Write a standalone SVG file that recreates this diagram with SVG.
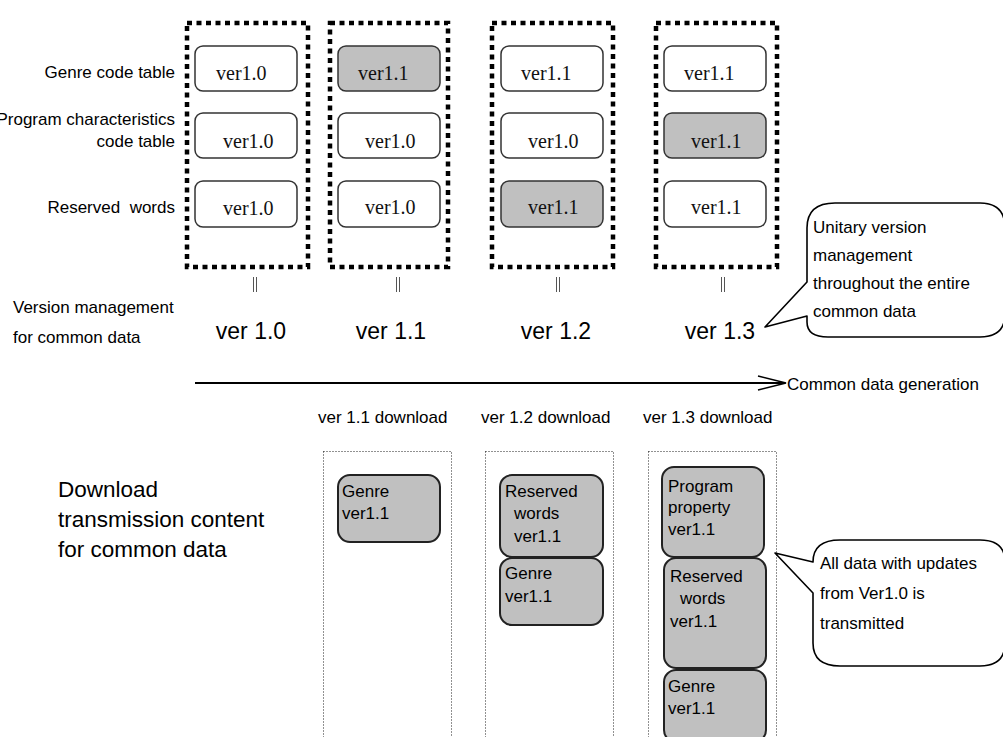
<svg xmlns="http://www.w3.org/2000/svg" width="1003" height="737" viewBox="0 0 1003 737">
  <style>
    .sans { font-family: "Liberation Sans", Arial, sans-serif; fill: #000; }
    .serif { font-family: "Liberation Serif", "Times New Roman", serif; font-size: 20px; fill: #111; }
    .lbl { font-size: 17px; }
    .big { font-size: 23px; }
    .frame { fill: none; stroke: #000; stroke-width: 4.5; stroke-dasharray: 5 4.5; }
    .tbl { fill: #fff; stroke: #333; stroke-width: 1.5; }
    .tbl.upd { fill: #c0c0c0; }
    .dl { fill: none; stroke: #222; stroke-width: 1; stroke-dasharray: 1 2; }
    .item { fill: #c0c0c0; stroke: #222; stroke-width: 2; }
    .eq { stroke: #555; stroke-width: 1; }
    .callout { fill: #fff; stroke: #000; stroke-width: 1.6; stroke-linejoin: round; }
  </style>

  <!-- row labels -->
  <g id="row-labels" class="sans lbl" text-anchor="end">
    <text x="175" y="78">Genre code table</text>
    <text x="175" y="125">Program characteristics</text>
    <text x="175" y="147">code table</text>
    <text x="175" y="213" xml:space="preserve">Reserved  words</text>
  </g>

  <!-- version 1.0 -->
  <g id="set-v10">
    <rect class="frame" x="187" y="23" width="121" height="244"/>
    <rect class="tbl" x="195" y="46" width="102" height="45" rx="8"/>
    <rect class="tbl" x="195" y="113" width="102" height="45" rx="8"/>
    <rect class="tbl" x="195" y="181" width="102" height="46" rx="8"/>
    <text class="serif" x="216" y="80">ver1.0</text>
    <text class="serif" x="223" y="148">ver1.0</text>
    <text class="serif" x="223" y="215">ver1.0</text>
  </g>

  <!-- version 1.1 -->
  <g id="set-v11">
    <rect class="frame" x="330" y="23" width="118" height="244"/>
    <rect class="tbl upd" x="338" y="46" width="102" height="45" rx="8"/>
    <rect class="tbl" x="338" y="113" width="102" height="45" rx="8"/>
    <rect class="tbl" x="338" y="181" width="102" height="46" rx="8"/>
    <text class="serif" x="358" y="80">ver1.1</text>
    <text class="serif" x="365" y="148">ver1.0</text>
    <text class="serif" x="365" y="214">ver1.0</text>
  </g>

  <!-- version 1.2 -->
  <g id="set-v12">
    <rect class="frame" x="492" y="23" width="121" height="244"/>
    <rect class="tbl" x="501" y="46" width="102" height="45" rx="8"/>
    <rect class="tbl" x="501" y="113" width="102" height="45" rx="8"/>
    <rect class="tbl upd" x="501" y="181" width="102" height="46" rx="8"/>
    <text class="serif" x="521" y="80">ver1.1</text>
    <text class="serif" x="528" y="148">ver1.0</text>
    <text class="serif" x="528" y="214">ver1.1</text>
  </g>

  <!-- version 1.3 -->
  <g id="set-v13">
    <rect class="frame" x="656" y="23" width="121" height="244"/>
    <rect class="tbl" x="664" y="46" width="102" height="45" rx="8"/>
    <rect class="tbl upd" x="664" y="113" width="102" height="45" rx="8"/>
    <rect class="tbl" x="664" y="181" width="102" height="46" rx="8"/>
    <text class="serif" x="684" y="80">ver1.1</text>
    <text class="serif" x="691" y="148">ver1.1</text>
    <text class="serif" x="691" y="214">ver1.1</text>
  </g>

  <!-- equivalence marks under each set -->
  <g id="equals" class="eq">
    <line x1="253.5" y1="277" x2="253.5" y2="292"/><line x1="256.5" y1="277" x2="256.5" y2="292"/>
    <line x1="396.5" y1="277" x2="396.5" y2="292"/><line x1="399.5" y1="277" x2="399.5" y2="292"/>
    <line x1="556.5" y1="277" x2="556.5" y2="292"/><line x1="559.5" y1="277" x2="559.5" y2="292"/>
    <line x1="721.5" y1="277" x2="721.5" y2="292"/><line x1="724.5" y1="277" x2="724.5" y2="292"/>
  </g>

  <!-- common data version numbers -->
  <g id="versions" class="sans big" text-anchor="middle">
    <text x="251" y="339">ver 1.0</text>
    <text x="391" y="339">ver 1.1</text>
    <text x="556" y="339">ver 1.2</text>
    <text x="720" y="339">ver 1.3</text>
  </g>

  <g id="version-label" class="sans lbl">
    <text x="13" y="313">Version management</text>
    <text x="13" y="343">for common data</text>
  </g>

  <!-- callout: unitary version management -->
  <g id="callout-unitary">
    <path class="callout" d="M807,228 Q807,203 835,203 H980 Q1005,203 1005,228 V314 Q1005,337 980,337 H828 Q807,337 807,322 V316 L765,327 L807,282 Z"/>
    <g class="sans lbl">
      <text x="813" y="233">Unitary version</text>
      <text x="813" y="261">management</text>
      <text x="813" y="289">throughout the entire</text>
      <text x="813" y="317">common data</text>
    </g>
  </g>

  <!-- generation time axis -->
  <g id="connectors">
    <line x1="195" y1="383" x2="785" y2="383" stroke="#000" stroke-width="2"/>
    <polyline points="758,376 786,383 758,390" fill="none" stroke="#000" stroke-width="1.6"/>
  </g>
  <text id="axis-label" class="sans lbl" x="787" y="390">Common data generation</text>

  <!-- download headings -->
  <g id="download-headings" class="sans lbl">
    <text x="318" y="423">ver 1.1 download</text>
    <text x="481" y="423">ver 1.2 download</text>
    <text x="643" y="423">ver 1.3 download</text>
  </g>

  <g id="download-label" class="sans" font-size="22.5">
    <text x="58" y="497">Download</text>
    <text x="58" y="527">transmission content</text>
    <text x="58" y="557">for common data</text>
  </g>

  <!-- ver 1.1 download content -->
  <g id="dl-v11">
    <rect class="dl" x="323.5" y="451.5" width="128" height="300"/>
    <rect class="item" x="338" y="475" width="102" height="67" rx="12"/>
    <text class="sans lbl" x="342" y="497">Genre</text>
    <text class="sans lbl" x="342" y="519">ver1.1</text>
  </g>

  <!-- ver 1.2 download content -->
  <g id="dl-v12">
    <rect class="dl" x="485.5" y="451.5" width="128" height="300"/>
    <rect class="item" x="500" y="475" width="103" height="82" rx="12"/>
    <text class="sans lbl" x="505" y="497">Reserved</text>
    <text class="sans lbl" x="514" y="519">words</text>
    <text class="sans lbl" x="514" y="542">ver1.1</text>
    <rect class="item" x="500" y="558" width="103" height="67" rx="12"/>
    <text class="sans lbl" x="505" y="579">Genre</text>
    <text class="sans lbl" x="505" y="602">ver1.1</text>
  </g>

  <!-- ver 1.3 download content -->
  <g id="dl-v13">
    <rect class="dl" x="648.5" y="451.5" width="128" height="300"/>
    <rect class="item" x="662" y="467" width="102" height="90" rx="12"/>
    <text class="sans lbl" x="668" y="492">Program</text>
    <text class="sans lbl" x="668" y="513">property</text>
    <text class="sans lbl" x="668" y="535">ver1.1</text>
    <rect class="item" x="664" y="558" width="102" height="110" rx="12"/>
    <text class="sans lbl" x="670" y="582">Reserved</text>
    <text class="sans lbl" x="680" y="604">words</text>
    <text class="sans lbl" x="670" y="627">ver1.1</text>
    <rect class="item" x="664" y="670" width="102" height="72" rx="12"/>
    <text class="sans lbl" x="668" y="692">Genre</text>
    <text class="sans lbl" x="668" y="714">ver1.1</text>
  </g>

  <!-- callout: all updated data is transmitted -->
  <g id="callout-transmit">
    <path class="callout" d="M813,562 Q813,540 840,540 H980 Q1005,540 1005,562 V643 Q1005,666 980,666 H840 Q813,666 813,643 V593 L775,553 Z"/>
    <g class="sans lbl">
      <text x="820" y="569">All data with updates</text>
      <text x="820" y="599">from Ver1.0 is</text>
      <text x="820" y="629">transmitted</text>
    </g>
  </g>
</svg>
